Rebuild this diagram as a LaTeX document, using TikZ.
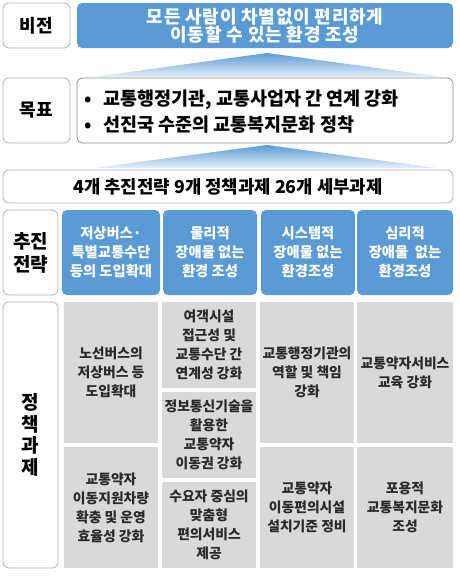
\documentclass[tikz,border=0pt]{standalone}
\usepackage{fontspec}
\setmainfont{Noto Sans CJK KR}
\definecolor{vblue}{HTML}{5B9BD5}
\definecolor{vgray}{HTML}{D9D9D9}
\definecolor{lborder}{HTML}{A3B3C4}
\definecolor{gborder}{HTML}{868E96}
\definecolor{gtext}{HTML}{2A2A2A}
\tikzset{
  lbl/.style={draw=lborder, line width=0.8pt, rounded corners=6pt, fill=white, inner sep=0pt, align=center, font=\fontsize{18}{22}\selectfont\bfseries},
  bluebox/.style={fill=vblue, rounded corners=5pt, inner sep=0pt, align=center, text=white, font=\fontsize{14.3}{19}\selectfont\bfseries},
  visbox/.style={fill=vblue, rounded corners=5pt, inner sep=0pt, align=center, text=white, font=\fontsize{18}{16.5}\selectfont\bfseries\addfontfeature{LetterSpace=4}},
  whitebox/.style={draw=gborder, line width=0.8pt, rounded corners=6pt, fill=white, inner sep=0pt},
  graybox/.style={fill=vgray, inner sep=0pt, align=center, text=gtext, font=\fontsize{13.8}{19}\selectfont\bfseries},
  bigtxt/.style={inner sep=0pt, align=left, font=\fontsize{18.5}{26}\selectfont\bfseries},
  uptri/.style={top color=vblue, middle color=vblue!55, bottom color=vblue!15, draw=none}
}
\begin{document}
\begin{tikzpicture}[x=1pt,y=-1pt]
\useasboundingbox (0,0) rectangle (460,581);
% vision
\node[lbl, minimum width=67pt, minimum height=45pt] (visL) at (36.5,25.5) {비전};
\node[visbox, minimum width=376pt, minimum height=45pt] (vis) at (265,25.5) {모든 사람이 차별없이 편리하게\\이동할 수 있는 환경 조성};
% arrow 1
\shade[uptri] (267,53) -- (443,77) -- (93,77) -- cycle;
% goal
\node[lbl, minimum width=67pt, minimum height=65pt] (goalL) at (36.5,110.5) {목표};
\node[whitebox, minimum width=376pt, minimum height=65pt] (goal) at (265,110.5) {};
\node[bigtxt, anchor=west] (goaltxt) at (84,112) {\makebox[19pt][l]{•}교통행정기관, 교통사업자 간 연계 강화\\\makebox[19pt][l]{•}선진국 수준의 교통복지문화 정착};
% arrow 2
\shade[uptri] (267,145) -- (437,168) -- (93,168) -- cycle;
% summary
\node[lbl, minimum width=450pt, minimum height=33pt, font=\fontsize{17.8}{20}\selectfont\bfseries] (sum) at (228,186.5) {4개 추진전략 9개 정책과제 26개 세부과제};
% strategies
\node[lbl, minimum width=55pt, minimum height=85pt, font=\fontsize{19}{23}\selectfont\bfseries] (stratL) at (30.5,252.5) {추진\\전략};
\node[bluebox, minimum width=98pt, minimum height=85pt] (s1) at (111,252.5) {저상버스·\\특별교통수단\\등의 도입확대};
\node[bluebox, minimum width=94pt, minimum height=85pt] (s2) at (210,252.5) {물리적\\장애물 없는\\환경 조성};
\node[bluebox, minimum width=94pt, minimum height=85pt] (s3) at (308,252.5) {시스템적\\장애물 없는\\환경조성};
\node[bluebox, minimum width=96pt, minimum height=85pt] (s4) at (405,252.5) {심리적\\장애물\ \ 없는\\환경조성};
% policies
\node[lbl, minimum width=55pt, minimum height=266pt, font=\fontsize{19}{21.5}\selectfont\bfseries] (polL) at (30.5,435) {정\\책\\과\\제};
\node[graybox, minimum width=94pt, minimum height=141pt] (p1a) at (111,372.5) {노선버스의\\저상버스 등\\도입확대};
\node[graybox, minimum width=94pt, minimum height=121pt] (p1b) at (111,507.5) {교통약자\\이동지원차량\\확충 및 운영\\효율성 강화};
\node[graybox, minimum width=94pt, minimum height=86pt] (p2a) at (209,345) {여객시설\\접근성 및\\교통수단 간\\연계성 강화};
\node[graybox, minimum width=94pt, minimum height=86pt] (p2b) at (209,435) {정보통신기술을\\활용한\\교통약자\\이동권 강화};
\node[graybox, minimum width=94pt, minimum height=86pt] (p2c) at (209,525) {수요자 중심의\\맞춤형\\편의서비스\\제공};
\node[graybox, minimum width=94pt, minimum height=141pt] (p3a) at (307,372.5) {교통행정기관의\\역할 및 책임\\강화};
\node[graybox, minimum width=94pt, minimum height=121pt] (p3b) at (307,507.5) {교통약자\\이동편의시설\\설치기준 정비};
\node[graybox, minimum width=96pt, minimum height=141pt] (p4a) at (405,372.5) {교통약자서비스\\교육 강화};
\node[graybox, minimum width=96pt, minimum height=121pt] (p4b) at (405,507.5) {포용적\\교통복지문화\\조성};
\end{tikzpicture}
\end{document}
